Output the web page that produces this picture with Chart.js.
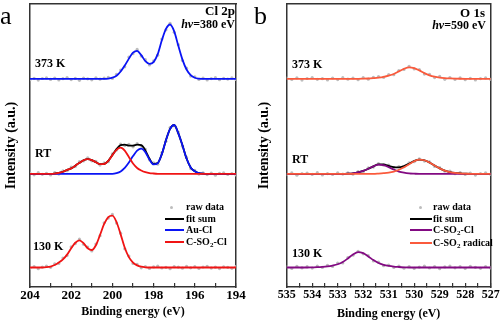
<!DOCTYPE html>
<html lang="en">
<head>
<meta charset="UTF-8">
<title>Cl 2p / O 1s XPS</title>
<script src="https://cdn.jsdelivr.net/npm/chart.js@4.4.0/dist/chart.umd.min.js"></script>
<style>
  body { margin: 0; background: #fff; }
  .wrap { position: relative; width: 500px; height: 327px; overflow: hidden;
          font-family: "Liberation Serif", "Times New Roman", serif; font-weight: bold; color: #000; }
  canvas { position: absolute; top: 0; }
  .lbl { position: absolute; white-space: nowrap; line-height: 1; }
  .panel { font-weight: normal; font-size: 26px; }
  .key { position: absolute; height: 2px; }
  .dot { position: absolute; width: 3px; height: 3px; border-radius: 50%; background: #bdbdbd; }
  .kt { position: absolute; font-size: 10px; line-height: 12px; white-space: nowrap; }
  .kt sub { font-size: 7px; line-height: 0; vertical-align: -2px; }
</style>
</head>
<body>
<div class="wrap">
  <canvas id="chartCl" width="250" height="327" style="left:0"></canvas>
  <canvas id="chartO" width="250" height="327" style="left:250px"></canvas>

  <div class="lbl panel" style="left:0;top:3px">a</div>
  <div class="lbl panel" style="left:254px;top:3px">b</div>

  <div class="lbl" style="right:265px;top:4px;font-size:13px">Cl 2p</div>
  <div class="lbl" style="right:265px;top:18px;font-size:12px"><i>hν</i>=380 eV</div>
  <div class="lbl" style="right:15px;top:6px;font-size:13px">O 1s</div>
  <div class="lbl" style="right:14px;top:19px;font-size:12px"><i>hν</i>=590 eV</div>

  <div class="lbl" style="left:35px;top:57px;font-size:12px">373 K</div>
  <div class="lbl" style="left:35px;top:147px;font-size:12px">RT</div>
  <div class="lbl" style="left:33px;top:240px;font-size:12px">130 K</div>
  <div class="lbl" style="left:292px;top:58px;font-size:12px">373 K</div>
  <div class="lbl" style="left:292px;top:153px;font-size:12px">RT</div>
  <div class="lbl" style="left:292px;top:247px;font-size:12px">130 K</div>

  <!-- legend a -->
  <div class="dot" style="left:170px;top:205.5px"></div>
  <div class="kt" style="left:186px;top:201px">raw data</div>
  <div class="key" style="left:165px;top:217.7px;width:19px;background:#000"></div>
  <div class="kt" style="left:186px;top:212.7px">fit sum</div>
  <div class="key" style="left:165px;top:229.3px;width:19px;background:#0a14f5"></div>
  <div class="kt" style="left:186px;top:224.3px">Au-Cl</div>
  <div class="key" style="left:165px;top:241px;width:19px;background:#f01414"></div>
  <div class="kt" style="left:186px;top:236px">C-SO<sub>2</sub>-Cl</div>

  <!-- legend b -->
  <div class="dot" style="left:419px;top:205.5px"></div>
  <div class="kt" style="left:433px;top:201px">raw data</div>
  <div class="key" style="left:410px;top:217.7px;width:22px;background:#000"></div>
  <div class="kt" style="left:433px;top:212.7px">fit sum</div>
  <div class="key" style="left:410px;top:229.3px;width:22px;background:#820a82"></div>
  <div class="kt" style="left:433px;top:224.3px">C-SO<sub>2</sub>-Cl</div>
  <div class="key" style="left:410px;top:242px;width:22px;background:#fa5a3c"></div>
  <div class="kt" style="left:433px;top:237px">C-SO<sub>2</sub> radical</div>
</div>

<script>
// spectra baselines (a.u.) for 373 K, RT, 130 K
const baseline = [210.3, 114.3, 19.7];

// ---- Cl 2p (binding energy, eV) ----
const energyCl = [204, 203.8, 203.6, 203.4, 203.2, 203, 202.8, 202.6, 202.4, 202.2, 202, 201.8, 201.6, 201.4, 201.2, 201, 200.8, 200.6, 200.4, 200.2, 200,
  199.8, 199.6, 199.4, 199.2, 199, 198.8, 198.6, 198.4, 198.2, 198, 197.8, 197.6, 197.4, 197.2, 197, 196.8, 196.6, 196.4, 196.2, 196,
  195.8, 195.6, 195.4, 195.2, 195, 194.8, 194.6, 194.4, 194.2, 194];

const clRaw373 = [-0.8, 0.6, -1.2, 0.4, 1.0, -0.5, 0.9, -1.1, 0.2, 1.3, -0.7, 0.5, -1.4, 0.8, 0.1, -0.9, 1.1, -0.3, 0.7,
  1.5, 0.4, 4.6, 8.9, 12.2, 22.1, 25.4, 29.8, 23.1, 19.4, 14.1, 18.2, 24.0, 40.3, 49.6, 56.2, 47.1, 34.6, 18.6, 10.8, 2.9, 2.1, -0.6,
  0.9, -1.0, 0.3, 1.2, -0.8, 0.5, -0.2, 1.0, -0.6];
const clAuCl373 = [0, 0, 0, 0, 0, 0, 0, 0, 0, 0, 0, 0, 0, 0, 0, 0, 0, 0, 0,
  0.3, 1.2, 3.2, 7.5, 13.5, 20.5, 26.5, 28.4, 24, 18, 15.2, 17, 25, 39, 50.5, 55, 48, 33.4, 19.5, 9.5, 3.8, 1.2, 0.3,
  0, 0, 0, 0, 0, 0, 0, 0, 0];

const clRawRT = [0.7, -0.9, 1.2, -0.4, 0.6, -1.1,
  1.4, -0.2, 3.1, 3.2, 6.8, 7.6, 12.5, 13.1, 16.2, 13.2, 12.7, 8.9, 11.1, 12.4, 20.3,
  24.2, 30.1, 28.6, 29.9, 27.4, 30.6, 28.1, 24.9, 14.2, 11.1, 9.8,
  21.3, 33.0, 46.8, 48.6, 42.2, 27.9, 16.6, 5.4, 3.5, -0.2, 1.1,
  -0.7, 0.8, -1.3, 0.5, 1.0, -0.6, 0.3, -1.0];
const clSumRT = [0, 0, 0, 0, 0, 0,
  0.3, 1, 2.2, 4, 5.6, 8.3, 11.2, 13.8, 15, 14, 11.8, 9.8, 10, 13.2, 19,
  25.1, 29, 29.5, 28.5, 28.5, 29.5, 29, 23.8, 15.3, 10, 10.9,
  20, 34, 45.5, 49.4, 41, 29, 15.5, 6.5, 2.6, 0.8, 0.2,
  0, 0, 0, 0, 0, 0, 0, 0];
const clAuClRT = [0, 0, 0, 0, 0, 0, 0, 0, 0, 0, 0, 0, 0, 0, 0, 0, 0, 0, 0, 0, 0,
  0.8, 2.5, 6, 11.5, 18, 23.5, 25.5, 22, 14.5, 9.6, 10.8, 20, 34, 45.5, 49.4, 41, 29, 15.5, 6.5, 2.6, 0.8, 0.2,
  0, 0, 0, 0, 0, 0, 0, 0];
const clSO2ClRT = [0, 0, 0, 0, 0, 0,
  0.3, 1, 2.2, 4, 5.6, 8.3, 11.2, 13.8, 15, 14, 11.8, 9.8, 10, 13.2, 19, 24.3, 26.5, 23.5, 17, 10.5, 6, 3.5, 1.8, 0.8, 0.4, 0.1,
  0, 0, 0, 0, 0, 0, 0, 0, 0, 0, 0, 0, 0, 0, 0, 0, 0, 0, 0];

const clRaw130 = [-0.6, 1.0, -1.2, 0.5,
  1.3, 0.2, 3.6, 4.1, 9.5, 12.1, 20.8, 24.2, 28.6, 23.4, 20.6, 16.8, 23.7, 32.1, 45.2, 50.0, 53.6, 44.9, 34.7, 18.9, 11.6, 4.1, 3.1, -0.3, 1.0,
  -0.9, 0.6, 1.3, -0.5, 0.2, -1.2, 0.9, 0.4, -0.7, 1.1, -0.3, 0.8, -1.0, 0.5, 1.2, -0.6, 0.3, -1.1, 0.7, 0.2, -0.8, 1.0];
const clSO2Cl130 = [0, 0, 0, 0,
  0.3, 1, 2.5, 5, 8.2, 13, 19.5, 25, 27.4, 24.5, 19.5, 17.7, 22.5, 33, 44, 51, 52.5, 46, 33.5, 20, 10.5, 5, 2.2, 0.8, 0.2,
  0, 0, 0, 0, 0, 0, 0, 0, 0, 0, 0, 0, 0, 0, 0, 0, 0, 0, 0, 0, 0, 0];

// ---- O 1s (binding energy, eV) ----
const energyO = [535, 534.8, 534.6, 534.4, 534.2, 534, 533.8, 533.6, 533.4, 533.2, 533, 532.8, 532.6, 532.4, 532.2, 532, 531.8, 531.6, 531.4, 531.2, 531,
  530.8, 530.6, 530.4, 530.2, 530, 529.8, 529.6, 529.4, 529.2, 529, 528.8, 528.6, 528.4, 528.2, 528, 527.8, 527.6, 527.4, 527.2, 527];

const oRaw373 = [0.8, -0.6, 1.1, -1.2, 0.4, 1.3, -0.4, 0.2, -1.0, 0.9, -0.7, 1.2, -0.3,
  0.9, -0.8, 1.2, -0.3, 1.6, 2.4, 1.5, 4.4, 4.2, 8.5, 9.6, 12.6, 10.1, 9.4, 4.9, 4.6, 1.3, 2.5, -0.4, 1.4, -0.5, 1.0, -0.8,
  0.6, -1.1, 0.3, 1.0, -0.5];
const oRadical373 = [0, 0, 0, 0, 0, 0, 0, 0, 0, 0, 0, 0, 0,
  0.05, 0.1, 0.2, 0.4, 0.8, 1.3, 2.1, 3.3, 5.0, 7.6, 10.2, 11.7, 10.9, 8.6, 5.8, 3.6, 2.2, 1.3, 0.8, 0.5, 0.3, 0.15, 0.05,
  0, 0, 0, 0, 0];

const oRawRT = [-0.7, 1.0, -1.3, 0.4, 0.9, -0.5, 1.2, -1.0, 0.3, -0.6, 1.1, -0.2,
  1.1, -0.3, 2.3, 2.2, 6.1, 6.9, 10.4, 8.8, 8.9, 6.1, 7.4, 7.3, 11.1, 12.4,
  15.1, 13.0, 12.2, 7.6, 6.3, 2.7, 2.8, 0.2, 1.3, -0.6,
  0.8, -1.2, 0.4, 1.1, -0.4];
const oSumRT = [0, 0, 0, 0, 0, 0, 0, 0, 0, 0, 0, 0,
  0.2, 0.6, 1.5, 3, 5.2, 7.6, 9.7, 9.5, 8.1, 6.8, 6.6, 8.0, 10.3, 13.0,
  14.4, 13.8, 11.5, 8.4, 5.6, 3.4, 1.9, 1, 0.5, 0.2,
  0, 0, 0, 0, 0];
const oSO2ClRT = [0, 0, 0, 0, 0, 0, 0, 0, 0, 0, 0, 0,
  0.2, 0.6, 1.5, 3, 5.2, 7.6, 9.4, 8.8, 6.8, 4.4, 2.4, 1.2, 0.5, 0.2,
  0, 0, 0, 0, 0, 0, 0, 0, 0, 0, 0, 0, 0, 0, 0];
const oRadicalRT = [0, 0, 0, 0, 0, 0, 0, 0, 0, 0, 0, 0, 0, 0, 0, 0, 0, 0,
  0.3, 0.7, 1.3, 2.4, 4.2, 6.8, 9.8, 12.8, 14.4, 13.8, 11.5, 8.4, 5.6, 3.4, 1.9, 1, 0.5, 0.2,
  0, 0, 0, 0, 0];

const oRaw130 = [0.6, -1.0, 1.2, -0.4, 0.8,
  -0.6, 1.3, 0.1, 2.2, 1.1, 4.5, 4.6, 10.1, 12.4, 16.3, 13.8, 12.0, 6.6, 5.4, 1.9, 2.5, 0.1, 1.4, -0.7,
  1.0, -0.9, 0.4, 1.3, -0.5, 0.9, -1.2, 0.6, 1.4, -0.3, 0.8, -1.0, 1.2, 0.2, -0.8, 1.0, -0.4];
const oSO2Cl130 = [0, 0, 0, 0, 0,
  0.15, 0.3, 0.6, 1.1, 2, 3.3, 5.6, 9.2, 13.2, 15.6, 14.5, 11.2, 7.5, 4.5, 2.7, 1.6, 0.9, 0.5, 0.2,
  0, 0, 0, 0, 0, 0, 0, 0, 0, 0, 0, 0, 0, 0, 0, 0, 0];

const serif = '"Liberation Serif", "Times New Roman", serif';

function pts(energy, vals, off) {
  return energy.map((e, i) => ({ x: e, y: off + vals[i] }));
}
function rawSet(energy, vals, off) {
  return { data: pts(energy, vals, off), showLine: false, pointRadius: 1.6,
           pointBackgroundColor: '#bdbdbd', pointBorderWidth: 0, order: 4 };
}
function fitSet(energy, vals, off, color, order) {
  return { data: pts(energy, vals, off), borderColor: color, borderWidth: 1.8, pointRadius: 0,
           cubicInterpolationMode: 'monotone', fill: false, order: order };
}

const frame = { display: true, color: '#333', width: 1.5 };

function makeChart(id, datasets, o) {
  return new Chart(document.getElementById(id), {
    type: 'line',
    data: { datasets: datasets },
    options: {
      responsive: false,
      animation: false,
      events: [],
      layout: { padding: { top: 1, right: o.padRight, bottom: 0, left: 0 } },
      plugins: { legend: { display: false }, tooltip: { enabled: false } },
      scales: {
        x: {
          type: 'linear', position: 'bottom', reverse: true, min: o.min, max: o.max,
          afterFit: s => { s.height = 40; s.paddingLeft = 0; s.paddingRight = 0; },
          ticks: {
            stepSize: o.step, autoSkip: false, maxRotation: 0, padding: 5, color: '#000',
            font: { family: serif, weight: 'bold', size: o.tickSize },
            callback: o.tickLabel
          },
          grid: { display: true, drawOnChartArea: false, drawTicks: true, tickLength: -4, color: '#333', lineWidth: 1.2 },
          border: frame,
          title: { display: true, text: 'Binding energy (eV)', color: '#000',
                   font: { family: serif, weight: 'bold', size: 12 }, padding: { top: 0, bottom: o.xTitlePad } }
        },
        xTop: {
          type: 'linear', position: 'top', reverse: true, min: o.min, max: o.max,
          afterFit: s => { s.height = 0; },
          ticks: { display: false }, grid: { display: false }, border: frame
        },
        y: {
          position: 'left', min: 0, max: 286,
          afterFit: s => { s.width = o.yWidth; },
          ticks: { display: false }, grid: { display: false }, border: frame,
          title: { display: true, text: 'Intensity (a.u.)', color: '#000',
                   font: { family: serif, weight: 'bold', size: 14 }, padding: { top: o.yTitlePad, bottom: 0 } }
        },
        yRight: {
          position: 'right', min: 0, max: 286,
          afterFit: s => { s.width = 0; },
          ticks: { display: false }, grid: { display: false }, border: frame
        }
      }
    }
  });
}

const blue = '#0a14f5', red = '#f01414', purple = '#820a82', orange = '#fa5a3c';

makeChart('chartCl', [
  rawSet(energyCl, clRaw373, baseline[0]),
  rawSet(energyCl, clRawRT, baseline[1]),
  rawSet(energyCl, clRaw130, baseline[2]),
  fitSet(energyCl, clSumRT, baseline[1], '#000', 3),
  fitSet(energyCl, clAuCl373, baseline[0], blue, 2),
  fitSet(energyCl, clAuClRT, baseline[1], blue, 2),
  fitSet(energyCl, clSO2ClRT, baseline[1], red, 1),
  fitSet(energyCl, clSO2Cl130, baseline[2], red, 1)
], { min: 194, max: 204, step: 1, tickSize: 13, padRight: 14, yWidth: 30, yTitlePad: 2.6, xTitlePad: 8.3,
     tickLabel: v => (v % 2 === 0 ? v : '') });

makeChart('chartO', [
  rawSet(energyO, oRaw373, baseline[0]),
  rawSet(energyO, oRawRT, baseline[1]),
  rawSet(energyO, oRaw130, baseline[2]),
  fitSet(energyO, oSumRT, baseline[1], '#000', 3),
  fitSet(energyO, oRadical373, baseline[0], orange, 2),
  fitSet(energyO, oSO2ClRT, baseline[1], purple, 2),
  fitSet(energyO, oRadicalRT, baseline[1], orange, 1),
  fitSet(energyO, oSO2Cl130, baseline[2], purple, 1)
], { min: 527, max: 535, step: 0.5, tickSize: 12, padRight: 9.3, yWidth: 36.7, yTitlePad: 6.1, xTitlePad: 6.3,
     tickLabel: v => (Number.isInteger(v) ? v : '') });
</script>
</body>
</html>
